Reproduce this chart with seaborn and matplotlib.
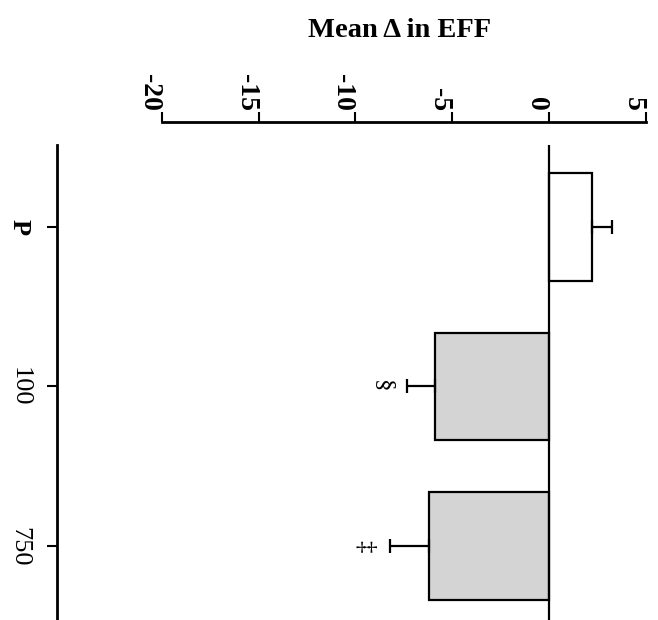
import matplotlib
matplotlib.use("Agg")
import matplotlib.pyplot as plt
import seaborn as sns
import pandas as pd

categories = ["P", "100", "750"]
means = [2.2, -5.9, -6.2]
errors = [1.05, 1.42, 2.0]
fills = ["#ffffff", "#d4d4d4", "#d4d4d4"]
marks = ["", "§", "‡"]
mark_pos = [0, -8.6, -9.5]
xticks = [-20, -15, -10, -5, 0, 5]
xtick_labels = ["-20", "-15", "-10", "-5", "0", "5"]
title = "Mean \u0394 in EFF"

sns.set_theme(style="white")
plt.rcParams["font.family"] = ["Liberation Serif", "DejaVu Serif"]
plt.rcParams["text.color"] = "black"

df = pd.DataFrame({"cat": categories, "val": means})

fig = plt.figure(figsize=(6.58, 6.2), dpi=100)
ax = fig.add_axes([57 / 658, 0, (652 - 57) / 658, (620 - 145) / 620])

sns.barplot(data=df, x="val", y="cat", hue="cat", palette=fills, orient="h",
            order=categories, hue_order=categories, legend=False,
            edgecolor="black", linewidth=1.6, width=0.675, ax=ax)

lower = [0 if m >= 0 else e for m, e in zip(means, errors)]
upper = [e if m >= 0 else 0 for m, e in zip(means, errors)]
ax.errorbar(means, list(range(len(categories))), xerr=[lower, upper], fmt="none",
            ecolor="black", elinewidth=1.6, capsize=4.7, capthick=1.6, zorder=3)

ax.axvline(0, color="black", lw=1.6, zorder=4)

for i, (m, p) in enumerate(zip(marks, mark_pos)):
    if m:
        ax.text(p, i, m, rotation=-90, ha="center", va="center", fontsize=18,
                color="black")

ax.set_xlim(-25.4, 5.3)
ax.set_ylim(2.46, -0.51)
ax.set_xlabel("")
ax.set_ylabel("")

# spines first (repositioning a spine resets the ticks)
for s in ["bottom", "right"]:
    ax.spines[s].set_visible(False)
ax.spines["top"].set_position(("outward", 16.6))
ax.spines["top"].set_bounds(-20, 5)
ax.spines["top"].set_linewidth(2)
ax.spines["left"].set_linewidth(2)
ax.spines["top"].set_color("black")
ax.spines["left"].set_color("black")

ax.xaxis.tick_top()
ax.set_xticks(xticks)
ax.set_xticklabels(xtick_labels)
ax.tick_params(axis="x", top=True, bottom=False, labeltop=True, labelbottom=False,
               length=7, width=1.5, pad=1, colors="black", labelrotation=-90,
               labelsize=20)
for tk in ax.xaxis.get_major_ticks():
    tk.label2.set_fontweight("bold")
    tk.label2.set_ha("right")

ax.set_yticks(range(len(categories)))
ax.set_yticklabels(categories)
ax.tick_params(axis="y", left=True, length=7, width=1.5, pad=12, colors="black",
               labelrotation=-90, labelsize=19)
for t in ax.get_yticklabels():
    t.set_va("center")
ax.get_yticklabels()[0].set_fontweight("bold")

fig.text(400 / 658, 1 - 37 / 620, title, ha="center", va="baseline",
         fontsize=20.5, fontweight="bold", color="black")

fig.savefig("out.png", dpi=100)
